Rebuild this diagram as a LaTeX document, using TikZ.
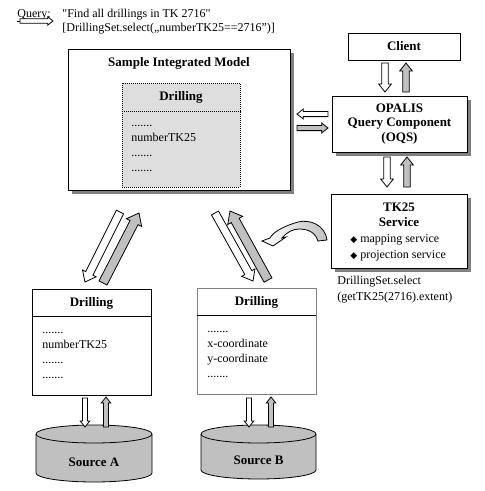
\documentclass[tikz,border=0pt]{standalone}
\usepackage{fontspec}
\setmainfont{Liberation Serif}
\newfontfamily\plainfont{Liberation Serif}
\newfontfamily\symbfont{DejaVu Sans}
\usetikzlibrary{calc,shadows}
\definecolor{silver}{RGB}{192,192,192}
\definecolor{shade}{RGB}{128,128,128}
\definecolor{dither}{RGB}{222,222,222}

\newcommand{\blockarrow}[4][white]{%
  \coordinate (hb) at ($(#3)!#4*2.4pt!(#2)$);
  \filldraw[fill=#1] ($(#2)!#4*1pt!90:(#3)$) -- ($(hb)!#4*1pt!90:(#3)$) -- ($(hb)!#4*1.9pt!90:(#3)$) -- (#3)
    -- ($(hb)!#4*1.9pt!-90:(#3)$) -- ($(hb)!#4*1pt!-90:(#3)$) -- ($(#2)!#4*1pt!-90:(#3)$) -- cycle;}
\newcommand{\dia}{{\symbfont\fontsize{9}{16}\selectfont ◆}}
\newcommand{\sq}{{\plainfont"}}

\begin{document}
\begin{tikzpicture}[x=1pt,y=-1pt,line width=0.8pt,
        txt/.style={font=\fontsize{12}{15}\selectfont, inner sep=0pt},
        list/.style={txt, align=left, anchor=north west},
        ttl/.style={font=\fontsize{13}{14.5}\selectfont\bfseries, inner sep=0pt, align=center},
        box/.style={draw, fill=white, inner sep=0pt},
        shadowed/.style={box, drop shadow={shadow xshift=4pt, shadow yshift=-4pt, fill=shade, opacity=1}}
        ]
    \useasboundingbox (0,0) rectangle (485,491);

    \node[txt, anchor=base west] (qry) at (17,17) {\underline{Query}:};
    \node[list, font=\fontsize{12}{14}\selectfont] (qtxt) at (62,7.2) {\strut\sq Find all drillings in TK 2716\sq\\{}[DrillingSet.select(„numberTK25==2716”)]};

    \node[shadowed, minimum width=222, minimum height=141] (sim) at (179,119.5) {};
    \node[ttl] (simt) at (179,63) {Sample Integrated Model};
    \node[box, fill=dither, line width=0.6pt, dash pattern=on 1pt off 1pt, minimum width=118, minimum height=104] (simd) at (181,135) {};
    \draw[line width=0.6pt, dash pattern=on 1pt off 1pt] ($(simd.north west)+(0,29)$) -- ($(simd.north east)+(0,29)$);
    \node[ttl] (simdt) at (181,97) {Drilling};
    \node[list] (simdl) at (131,116) {\strut.......\\numberTK25\\.......\\.......};

    \node[box, ttl, minimum width=112, minimum height=27] (cli) at (404,46.5) {Client};
    \node[shadowed, ttl, minimum width=135, minimum height=56] (oqs) at (399.5,124) {OPALIS\\Query Component\\(OQS)};
    \node[shadowed, minimum width=136, minimum height=74] (tks) at (399,231) {};
    \node[ttl] (tkst) at (399,215) {TK25\\Service};
    \node[list, font=\fontsize{12}{16}\selectfont] (tksl) at (350,231) {\strut\dia\ mapping service\\\dia\ projection service};
    \node[list, font=\fontsize{12}{16}\selectfont] (sel) at (337,273) {\strut DrillingSet.select\\(getTK25(2716).extent)};

    \node[box, minimum width=119, minimum height=106] (drA) at (91.5,342) {};
    \draw ($(drA.north west)+(0,28)$) -- ($(drA.north east)+(0,28)$);
    \node[ttl] (drAt) at (91.5,303) {Drilling};
    \node[list] (drAl) at (42,323) {\strut.......\\numberTK25\\.......\\.......};

    \node[box, draw=shade, minimum width=119, minimum height=106] (drB) at (256.5,341) {};
    \draw[shade] ($(drB.north west)+(0,28)$) -- ($(drB.north east)+(0,28)$);
    \node[ttl] (drBt) at (256.5,302) {Drilling};
    \node[list] (drBl) at (207,322) {\strut.......\\x-coordinate\\y-coordinate\\.......};

    \foreach \x/\r/\bot in {36/58/473, 201/57.5/470} {
        \draw[fill=silver] (\x,434) -- (\x,\bot) arc (180:360:\r pt and 9pt) -- ++(0,434-\bot) arc (0:180:\r pt and 9pt) -- cycle;
        \draw (\x,434) arc (180:360:\r pt and 9pt);
    }
    \node[ttl] (srcA) at (94,462) {Source A};
    \node[ttl] (srcB) at (258.5,460) {Source B};

    \foreach \nm/\px/\py in {q1/20/21, q2/53/21,
        c1/385/63, c2/385/92, c3/406/92, c4/406/63,
        o1/387/157, o2/387/187, o3/407/187, o4/407/157,
        m1/328/114, m2/297/114, m3/297/128, m4/328/128,
        l1/120/212, l2/85/282, l3/103/283, l4/139/213,
        r1/215/213, r2/253/281, r3/268/280, r4/230/211,
        a1/85/398, a2/85/427, a3/106/427, a4/106/397,
        b1/249/398, b2/249/427, b3/271/427, b4/271/397}
        \coordinate (\nm) at (\px,\py);

    \foreach \f/\a/\b/\sz in {white/q1/q2/2.2,
        white/c1/c2/3.3, silver/c3/c4/3.3,
        white/o1/o2/3.3, silver/o3/o4/3.3,
        white/m1/m2/2.6, silver/m3/m4/2.6,
        white/l1/l2/4, silver/l3/l4/4.5,
        white/r1/r2/4, silver/r3/r4/4.5,
        white/a1/a2/2.5, silver/a3/a4/2.5,
        white/b1/b2/2.5, silver/b3/b4/2.5}
        \blockarrow[\f]{\a}{\b}{\sz};

    \path[draw, left color=white, right color=silver] (327,240) .. controls (325,225) and (310,219) .. (298,222)
        .. controls (284,226) and (273,232) .. (270,238) -- (262,241) -- (273,246) -- (286,237) -- (282,238)
        .. controls (287,232) and (293,229) .. (299,229) .. controls (310,229) and (316,234) .. (318,241) -- cycle;
\end{tikzpicture}
\end{document}
